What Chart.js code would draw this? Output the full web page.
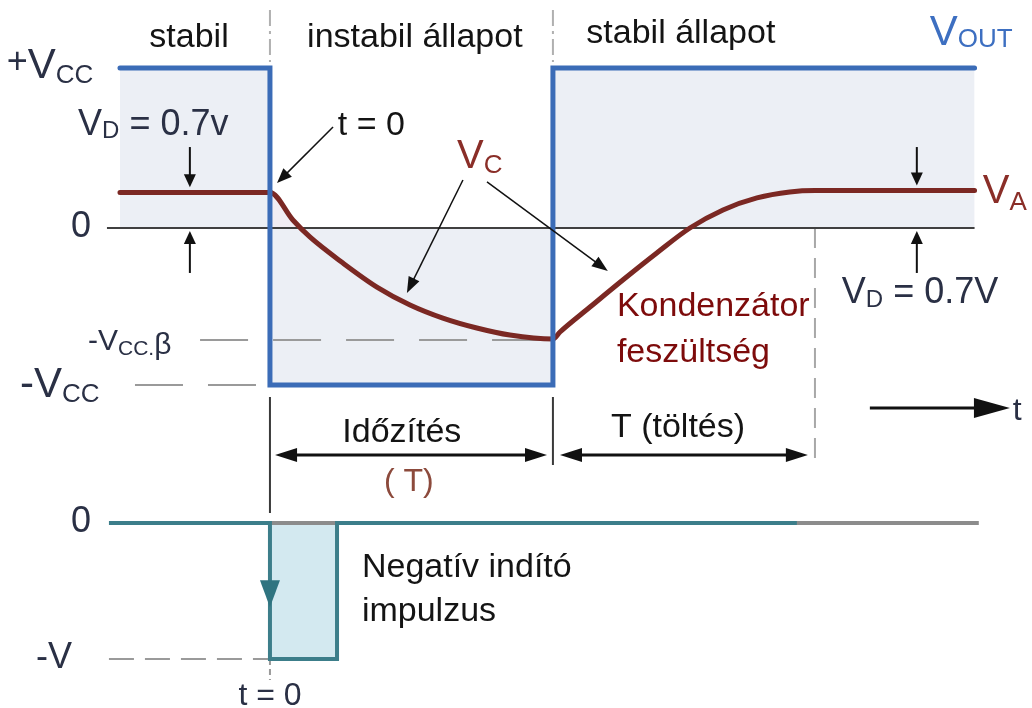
<!DOCTYPE html>
<html>
<head>
<meta charset="utf-8">
<title>Monostabil multivibrátor</title>
<script src="https://cdn.jsdelivr.net/npm/chart.js@4/dist/chart.umd.min.js"></script>
<style>
  html, body { margin: 0; padding: 0; background: #fff; }
  canvas { display: block; }
</style>
</head>
<body>
<canvas id="diagram" width="1032" height="708"></canvas>
<script>
// idő (ms), t = 0 az indító impulzus, T = 10
const voutTime  = [-5.3, 0, 0, 10, 10, 24.9];
const voutVolts = [10, 10, -9.81, -9.81, 10, 10];

const vcTime  = [-5.3, 0, 0.81, 1.41, 2.58, 3.78, 4.95, 6.11, 7.31, 8.48, 10.0,
                 10.25, 11.31, 12.47, 13.67, 14.84, 16.01, 17.21, 18.37, 19.26, 24.9];
const vcVolts = [2.22, 2.22, 0.5, -0.56, -2.19, -3.69, -4.81, -5.63, -6.25, -6.69, -6.94,
                 -6.5, -4.94, -3.25, -1.56, 0, 1.13, 1.88, 2.25, 2.34, 2.34];

const zeroTime  = [-5.76, 24.9];
const zeroVolts = [0, 0];

const betaTime  = [-2.47, 10];
const betaVolts = [-7.0, -7.0];
const negTime   = [-4.77, 0];
const negVolts  = [-9.81, -9.81];

// indító impulzus (alsó diagram)
const pulseTime  = [-5.69, 0, 0, 2.37, 2.37, 18.62];
const pulseLevel = [0, 0, -1, -1, 0, 0];
const baseTime   = [0, 25.05];
const baseLevel  = [0, 0];
const negVTime   = [-5.69, 0];
const negVLevel  = [-1, -1];

// függőleges segédvonalak
const markTimes = [0, 10, 19.26];

const FONT = "'Liberation Sans', Arial, sans-serif";
const INK = '#141414';
const SLATE = '#2a3045';
const RED = '#8a2e28';

function line(xs, ys, opts) {
    return Object.assign({
        data: xs.map((x, i) => ({ x: x, y: ys[i] })),
        pointRadius: 0,
        borderWidth: 2,
        fill: false,
        tension: 0,
        yAxisID: 'y'
    }, opts);
}

const datasets = [
    line(voutTime, voutVolts, {
        borderColor: '#3b6cb7', borderWidth: 5, borderCapStyle: 'round',
        fill: { target: 'origin', above: '#eceff5', below: '#eceff5' }
    }),
    line(vcTime, vcVolts, {
        borderColor: '#7b2823', borderWidth: 5, cubicInterpolationMode: 'monotone', borderCapStyle: 'round',
        fill: { target: 'origin', above: '#f1edf3', below: 'rgba(0,0,0,0)' }
    }),
    line(zeroTime, zeroVolts, { borderColor: '#404040', borderWidth: 2 }),
    line(betaTime, betaVolts, { borderColor: '#9a9a9a', borderWidth: 2, borderDash: [48, 25] }),
    line(negTime, negVolts, { borderColor: '#9a9a9a', borderWidth: 2, borderDash: [48, 25] }),
    // szakaszhatárok
    line([markTimes[0], markTimes[0]], [13.63, 10.38], { borderColor: '#b0b0b0', borderWidth: 2, borderDash: [16, 5, 3, 5] }),
    line([markTimes[1], markTimes[1]], [13.63, 10.38], { borderColor: '#b0b0b0', borderWidth: 2, borderDash: [16, 5, 3, 5] }),
    line([markTimes[0], markTimes[0]], [-10.56, -17.81], { borderColor: '#3a3a3a', borderWidth: 2 }),
    line([markTimes[1], markTimes[1]], [-10.56, -14.81], { borderColor: '#3a3a3a', borderWidth: 2 }),
    line([markTimes[2], markTimes[2]], [0, -14.81], { borderColor: '#a8a8a8', borderWidth: 2, borderDash: [20, 10] }),
    // alsó diagram
    line(pulseTime, pulseLevel, {
        yAxisID: 'yp', borderColor: '#3c7e8a', borderWidth: 4,
        fill: { target: 'origin', above: '#d3e9f0', below: '#d3e9f0' }
    }),
    line(baseTime, baseLevel, { yAxisID: 'yp', borderColor: '#8c8c8c', borderWidth: 4 }),
    line(negVTime, negVLevel, { yAxisID: 'yp', borderColor: '#9a9a9a', borderWidth: 2, borderDash: [25, 11] }),
    line([markTimes[0], markTimes[0]], [-1, -1.155], { yAxisID: 'yp', borderColor: '#9a9a9a', borderWidth: 2, borderDash: [6, 4] })
];

// nyilak: kezdő és végpont (idő, feszültség)
const arrows = [
    { t1: 2.23, v1: 6.31, t2: 0.25, v2: 2.81, w: 1.5, len: 15, half: 6 },
    { t1: 6.82, v1: 3.0, t2: 4.84, v2: -4.06, w: 1.5, len: 16, half: 6 },
    { t1: 7.67, v1: 2.88, t2: 11.94, v2: -2.69, w: 1.5, len: 16, half: 6 },
    { t1: -2.83, v1: 5.06, t2: -2.83, v2: 2.55, w: 2, len: 13, half: 6 },
    { t1: -2.83, v1: -2.81, t2: -2.83, v2: -0.19, w: 2, len: 13, half: 6 },
    { t1: 22.86, v1: 5.06, t2: 22.86, v2: 2.65, w: 2, len: 13, half: 6 },
    { t1: 22.86, v1: -2.81, t2: 22.86, v2: -0.19, w: 2, len: 13, half: 6 },
    { t1: 0.18, v1: -14.19, t2: 9.79, v2: -14.19, w: 3, len: 22, half: 7, both: true },
    { t1: 10.25, v1: -14.19, t2: 19.01, v2: -14.19, w: 3, len: 22, half: 7, both: true },
    { t1: 21.2, v1: -11.25, t2: 26.15, v2: -11.25, w: 3, len: 36, half: 10 },
    { t1: 0, v1: -0.42, t2: 0, v2: -0.62, axis: 'yp', w: 0, len: 27, half: 10, color: '#2f7480' }
];

// feliratok: részek [szöveg, méret, eltolás lefelé]
const labels = [
    { parts: [['stabil', 34, 0]], t: -2.86, v: 11.31, align: 'center', color: INK },
    { parts: [['instabil állapot', 34, 0]], t: 5.12, v: 11.31, align: 'center', color: INK },
    { parts: [['stabil állapot', 34, 0]], t: 14.52, v: 11.56, align: 'center', color: INK },
    { parts: [['V', 42, 0], ['OUT', 26, 2]], t: 23.32, v: 11.44, color: '#3d6fc1' },
    { parts: [['+', 36, -5], ['V', 42, 0], ['CC', 26, 5]], t: -9.3, v: 9.38, color: SLATE },
    { parts: [['V', 36, 0], ['D', 24, 3], [' = 0.7v', 36, 0]], t: -6.78, v: 5.81, color: SLATE },
    { parts: [['t = 0', 34, 0]], t: 2.40, v: 5.81, color: INK },
    { parts: [['V', 40, 0], ['C', 26, 5]], t: 6.61, v: 3.75, color: RED },
    { parts: [['0', 36, 0]], t: -6.68, v: -0.56, align: 'center', color: SLATE },
    { parts: [['-V', 30, 0], ['CC.', 21, 5], ['β', 30, 4]], t: -6.43, v: -7.6, color: SLATE },
    { parts: [['-V', 42, 0], ['CC', 26, 5]], t: -8.83, v: -10.56, color: SLATE },
    { parts: [['V', 40, 0], ['A', 26, 7]], t: 25.19, v: 1.56, color: RED },
    { parts: [['Kondenzátor', 34, 0]], t: 12.26, v: -5.5, color: '#7d0b0b' },
    { parts: [['feszültség', 34, 0]], t: 12.26, v: -8.38, color: '#7d0b0b' },
    { parts: [['V', 36, 0], ['D', 24, 4], [' = 0.7V', 36, 0]], t: 20.21, v: -4.69, color: SLATE },
    { parts: [['t', 32, 0]], t: 26.25, v: -12.0, color: SLATE },
    { parts: [['Időzítés', 34, 0]], t: 4.66, v: -13.38, align: 'center', color: INK },
    { parts: [['T (töltés)', 34, 0]], t: 14.42, v: -13.06, align: 'center', color: INK },
    { parts: [['( T)', 32, 0]], t: 4.91, v: -16.44, align: 'center', color: '#8c4a3c' },
    { parts: [['0', 36, 0]], t: -6.68, v: -0.066, axis: 'yp', align: 'center', color: SLATE },
    { parts: [['-V', 36, 0]], t: -8.27, v: -1.066, axis: 'yp', color: SLATE },
    { parts: [['t = 0', 32, 0]], t: 0, v: -1.34, axis: 'yp', align: 'center', color: SLATE },
    { parts: [['Negatív indító', 34, 0]], t: 3.25, v: -0.40, axis: 'yp', color: INK },
    { parts: [['impulzus', 34, 0]], t: 3.25, v: -0.72, axis: 'yp', color: INK }
];

function drawHead(ctx, x, y, ang, len, half) {
    ctx.beginPath();
    ctx.moveTo(x, y);
    ctx.lineTo(x - len * Math.cos(ang) + half * Math.sin(ang), y - len * Math.sin(ang) - half * Math.cos(ang));
    ctx.lineTo(x - len * Math.cos(ang) - half * Math.sin(ang), y - len * Math.sin(ang) + half * Math.cos(ang));
    ctx.closePath();
    ctx.fill();
}

const overlay = {
    id: 'overlay',
    afterDatasetsDraw(chart) {
        const ctx = chart.ctx;
        const xs = chart.scales.x;
        ctx.save();

        arrows.forEach(a => {
            const ys = chart.scales[a.axis || 'y'];
            const x1 = xs.getPixelForValue(a.t1), y1 = ys.getPixelForValue(a.v1);
            const x2 = xs.getPixelForValue(a.t2), y2 = ys.getPixelForValue(a.v2);
            const ang = Math.atan2(y2 - y1, x2 - x1);
            const col = a.color || '#111';
            ctx.strokeStyle = col;
            ctx.fillStyle = col;
            if (a.w > 0) {
                const back = a.len * 0.7;
                const sx = a.both ? x1 + back * Math.cos(ang) : x1;
                const sy = a.both ? y1 + back * Math.sin(ang) : y1;
                ctx.lineWidth = a.w;
                ctx.beginPath();
                ctx.moveTo(sx, sy);
                ctx.lineTo(x2 - back * Math.cos(ang), y2 - back * Math.sin(ang));
                ctx.stroke();
            }
            drawHead(ctx, x2, y2, ang, a.len, a.half);
            if (a.both) drawHead(ctx, x1, y1, ang + Math.PI, a.len, a.half);
        });

        ctx.textBaseline = 'alphabetic';
        ctx.textAlign = 'left';
        labels.forEach(l => {
            const ys = chart.scales[l.axis || 'y'];
            let x = xs.getPixelForValue(l.t);
            const y = ys.getPixelForValue(l.v);
            let total = 0;
            l.parts.forEach(p => {
                ctx.font = p[1] + 'px ' + FONT;
                total += ctx.measureText(p[0]).width;
            });
            if (l.align === 'center') x -= total / 2;
            ctx.fillStyle = l.color;
            l.parts.forEach(p => {
                ctx.font = p[1] + 'px ' + FONT;
                ctx.fillText(p[0], x, y + p[2]);
                x += ctx.measureText(p[0]).width;
            });
        });
        ctx.restore();
    }
};

new Chart(document.getElementById('diagram'), {
    type: 'line',
    data: { datasets: datasets },
    options: {
        responsive: false,
        animation: false,
        parsing: true,
        layout: { padding: 0 },
        plugins: {
            legend: { display: false },
            tooltip: { enabled: false },
            filler: { drawTime: 'beforeDatasetsDraw' }
        },
        scales: {
            x: { type: 'linear', display: false, min: -9.54, max: 26.93 },
            y: { type: 'linear', display: false, min: -30, max: 14.25 },
            yp: { type: 'linear', display: false, min: -1.36, max: 3.846 }
        }
    },
    plugins: [overlay]
});
</script>
</body>
</html>
